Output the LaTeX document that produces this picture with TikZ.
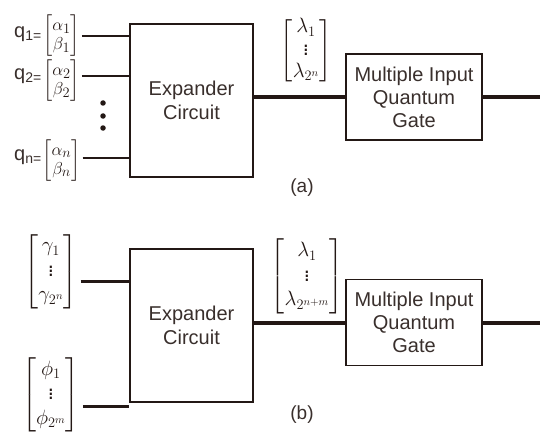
\documentclass[tikz,border=0pt]{standalone}
\usepackage{amsmath}
\usepackage{fontspec}
\setmainfont{Liberation Sans}
\definecolor{ink}{RGB}{35,24,21}
\begin{document}
\begin{tikzpicture}[x=1pt,y=-1pt,
  box/.style={draw=ink,line width=1.6pt,minimum width=123pt,minimum height=153pt,inner sep=0pt,align=center,font=\fontsize{20}{24}\selectfont,text=ink!90},
  gate/.style={draw=ink,line width=1.6pt,minimum width=136pt,minimum height=86pt,inner sep=0pt,align=center,font=\fontsize{20}{23}\selectfont,text=ink!90},
  vec/.style={inner sep=0pt,text=ink,font=\fontsize{19}{19}\selectfont},
  vecl/.style={inner sep=0pt,text=ink,font=\fontsize{22}{22}\selectfont},
  vecb/.style={inner sep=0pt,text=ink,font=\fontsize{22}{24.5}\selectfont},
  inln/.style={draw=ink,line width=1.6pt},
  midln/.style={draw=ink,line width=3pt},
  outln/.style={draw=ink,line width=4pt},
  qlab/.style={inner sep=0pt,anchor=east,text=ink!90,font=\fontsize{20}{24}\selectfont},
  caplab/.style={inner sep=0pt,text=ink!90,font=\fontsize{19}{22}\selectfont},
  dot/.style={circle,fill=ink,inner sep=0pt,minimum size=5.5pt}]
\useasboundingbox (0,0) rectangle (540,433);
\fill[white] (0,0) rectangle (540,433);
% ---------- (a) ----------
\node[box] (expa) at (191.5,100.5) {Expander\\Circuit};
\node[gate] (gatea) at (414,97) {Multiple Input\\Quantum\\Gate};
\node[vec] (va1) at (61.5,36) {$\left[\begin{matrix}\alpha_1\\ \beta_1\end{matrix}\right]$};
\node[vec] (va2) at (61.5,81) {$\left[\begin{matrix}\alpha_2\\ \beta_2\end{matrix}\right]$};
\node[vec] (va3) at (61.5,161) {$\left[\begin{matrix}\alpha_n\\ \beta_n\end{matrix}\right]$};
\node[qlab] (q1) at (42,34) {q\textsubscript{1=}};
\node[qlab] (q2) at (42,76) {q\textsubscript{2=}};
\node[qlab] (q3) at (42,157) {q\textsubscript{n=}};
\draw[inln] ([xshift=2pt]va1.east) -- (va1.east -| expa.west);
\draw[inln] ([xshift=2pt,yshift=5pt]va2.east) -- ([yshift=5pt]va2.east -| expa.west);
\draw[inln] ([xshift=2pt,yshift=3pt]va3.east) -- ([yshift=3pt]va3.east -| expa.west);
\node[dot] (d1) at (103,103) {};
\node[dot] (d2) at (103,116) {};
\node[dot] (d3) at (103,128) {};
\node[vecl] (la) at (306,51) {$\left[\begin{matrix}\lambda_1\\ \vdots\\ \lambda_{2^n}\end{matrix}\right]$};
\draw[outln] (gatea.west -| expa.east) -- (gatea.west);
\coordinate (outa) at (540,97);
\draw[outln] (gatea.east) -- (outa);
\node[caplab] (capa) at (302,188) {(a)};
% ---------- (b) ----------
\node[box] (expb) at (191.5,325.5) {Expander\\Circuit};
\node[gate] (gateb) at (414,322.5) {Multiple Input\\Quantum\\Gate};
\node[vecb] (vg) at (51,271.5) {$\left[\begin{matrix}\gamma_1\\ \vdots\\ \gamma_{2^n}\end{matrix}\right]$};
\node[vecb] (vp) at (51,395) {$\left[\begin{matrix}\phi_1\\ \vdots\\ \phi_{2^m}\end{matrix}\right]$};
\draw[midln] ([xshift=3pt,yshift=-9.5pt]vg.east) -- ([yshift=-9.5pt]vg.east -| expb.west);
\draw[midln] ([xshift=3pt,yshift=-11pt]vp.east) -- ([yshift=-11pt]vp.east -| expb.west);
\node[vecb] (lb) at (307,276.5) {$\left[\begin{matrix}\lambda_1\\ \vdots\\ \lambda_{2^{n+m}}\end{matrix}\right]$};
\draw[outln] (gateb.west -| expb.east) -- (gateb.west);
\coordinate (outb) at (540,322.5);
\draw[outln] (gateb.east) -- (outb);
\node[caplab] (capb) at (302,415) {(b)};
\end{tikzpicture}
\end{document}
